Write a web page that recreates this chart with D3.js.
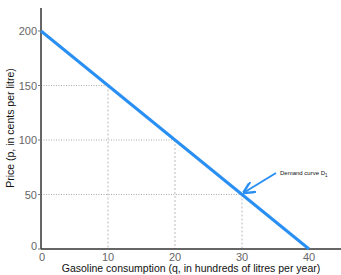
<!doctype html>
<html>
<head>
<style>
  body { margin: 0; background: #fff; }
  text { font-family: "Liberation Sans", Arial, sans-serif; }
</style>
<script src="https://d3js.org/d3.v7.min.js"></script>
</head>
<body>
<svg width="341" height="275"></svg>
<script>
// demand curve endpoints and highlighted points
var quantity = [0, 40];
var price = [200, 0];
var guideQ = [10, 20, 30];
var guideP = [150, 100, 50];
var xTicks = [0, 10, 20, 30, 40];
var yTicks = [0, 50, 100, 150, 200];

var svg = d3.select("svg");
var x0 = 41, y0 = 249;
var x = d3.scaleLinear().domain([0, 40]).range([x0, 309]);
var y = d3.scaleLinear().domain([0, 200]).range([y0, 31]);

// guides
var g = svg.append("g");
guideQ.forEach(function(q, i) {
    g.append("line")
     .attr("x1", x0).attr("x2", x(q))
     .attr("y1", y(guideP[i])).attr("y2", y(guideP[i]))
     .attr("stroke", "#aaa").attr("stroke-width", 1)
     .attr("stroke-dasharray", "1,1.5");
    g.append("line")
     .attr("x1", x(q)).attr("x2", x(q))
     .attr("y1", y(guideP[i])).attr("y2", y0)
     .attr("stroke", "#bbb").attr("stroke-width", 1)
     .attr("stroke-dasharray", "2,2");
});

// axes
svg.append("line").attr("x1", x0).attr("x2", x0).attr("y1", 8).attr("y2", y0)
   .attr("stroke", "#333").attr("stroke-width", 1.5);
svg.append("line").attr("x1", x0).attr("x2", 341).attr("y1", y0).attr("y2", y0)
   .attr("stroke", "#333").attr("stroke-width", 1.5);

yTicks.forEach(function(t) {
    svg.append("line").attr("x1", x0 - 3).attr("x2", x0).attr("y1", y(t)).attr("y2", y(t))
       .attr("stroke", "#777").attr("stroke-width", 1);
    svg.append("text").attr("x", x0 - 4).attr("y", y(t) + (t === 0 ? 1 : 4))
       .attr("text-anchor", "end").attr("font-size", 11).attr("fill", "#666")
       .text(t);
});
xTicks.forEach(function(t) {
    svg.append("text").attr("x", x(t) + (t === 0 ? 1 : 0)).attr("y", y0 + 12)
       .attr("text-anchor", "middle").attr("font-size", 11).attr("fill", "#666")
       .text(t);
});

// axis titles
svg.append("text").attr("x", 191).attr("y", 272).attr("text-anchor", "middle")
   .attr("font-size", 10.5).attr("fill", "#111")
   .text("Gasoline consumption (q, in hundreds of litres per year)");
svg.append("text").attr("transform", "translate(14,128) rotate(-90)")
   .attr("text-anchor", "middle").attr("font-size", 10.5).attr("fill", "#111")
   .text("Price (p, in cents per litre)");

// demand curve
svg.append("path")
   .datum(quantity.map(function(q, i) { return [q, price[i]]; }))
   .attr("d", d3.line().x(function(d) { return x(d[0]); }).y(function(d) { return y(d[1]); }))
   .attr("fill", "none").attr("stroke", "#2a8ff2").attr("stroke-width", 3);

// annotation
svg.append("defs").append("marker")
   .attr("id", "ah").attr("viewBox", "0 0 10 10").attr("refX", 9).attr("refY", 5)
   .attr("markerWidth", 6).attr("markerHeight", 6).attr("orient", "auto")
   .append("path").attr("d", "M0,0 L10,5 L0,10").attr("fill", "none")
   .attr("stroke", "#2a8ff2").attr("stroke-width", 2);
svg.append("line").attr("x1", 276).attr("y1", 173).attr("x2", x(30) + 2).attr("y2", y(50) - 2)
   .attr("stroke", "#2a8ff2").attr("stroke-width", 2).attr("marker-end", "url(#ah)");
var ann = svg.append("text").attr("x", 280).attr("y", 175).attr("font-size", 6).attr("fill", "#111");
ann.append("tspan").text("Demand curve D");
ann.append("tspan").attr("font-size", 4.5).attr("dy", 1.5).text("1");
</script>
</body>
</html>
